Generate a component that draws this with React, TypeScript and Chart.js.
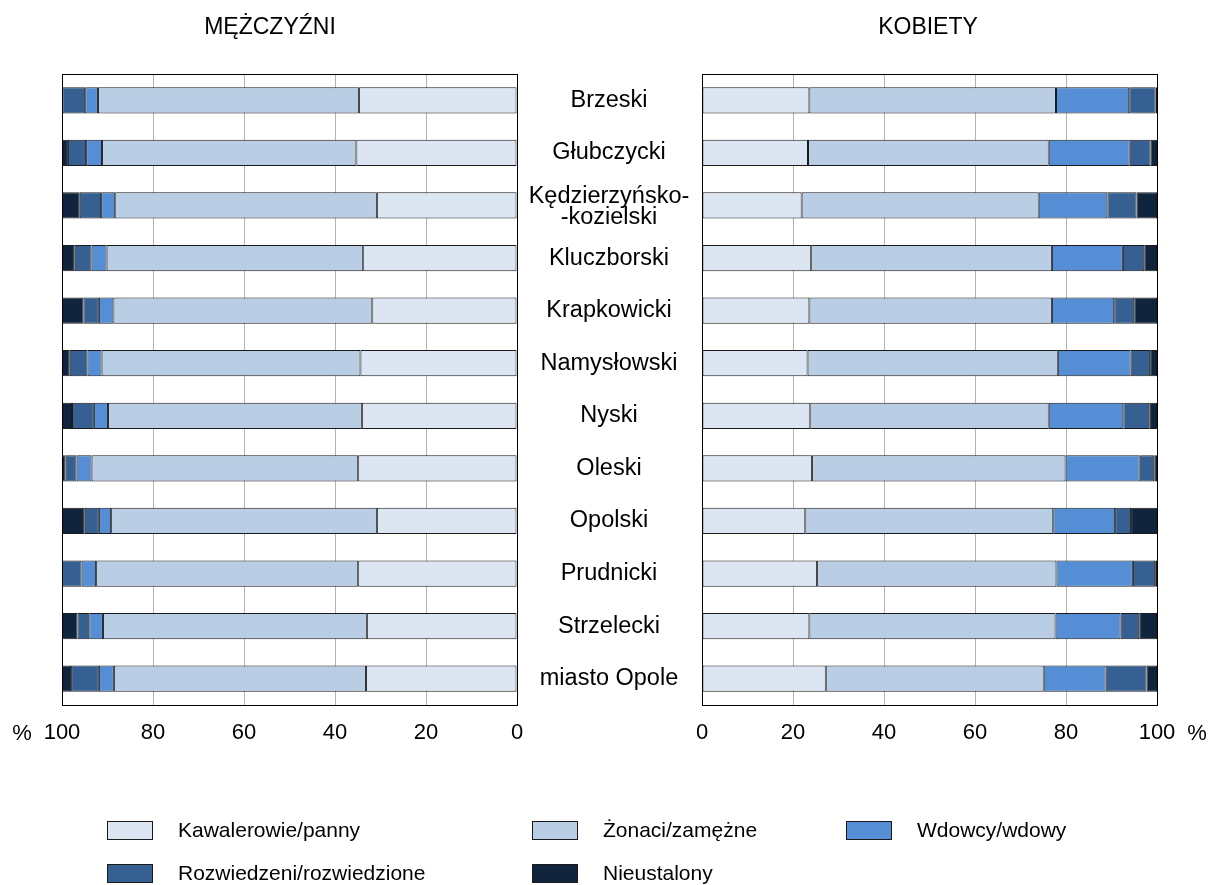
import React, { useEffect, useRef } from 'react';
import { Chart, registerables } from 'chart.js';

Chart.register(...registerables);

const FONT = '"Liberation Sans", Arial, Helvetica, sans-serif';

const categories: (string | string[])[] = [
  'Brzeski',
  'Głubczycki',
  ['Kędzierzyńsko-', '-kozielski'],
  'Kluczborski',
  'Krapkowicki',
  'Namysłowski',
  'Nyski',
  'Oleski',
  'Opolski',
  'Prudnicki',
  'Strzelecki',
  'miasto Opole',
];

const seriesNames = [
  'Kawalerowie/panny',
  'Żonaci/zamężne',
  'Wdowcy/wdowy',
  'Rozwiedzeni/rozwiedzione',
  'Nieustalony',
];
const seriesColors = ['#DCE6F2', '#B9CDE5', '#558ED5', '#376092', '#10243E'];

// MĘŻCZYŹNI (%)
const menKawalerowie = [34.7, 35.3, 30.8, 33.8, 31.8, 34.4, 34.1, 34.9, 30.8, 34.9, 33.0, 33.2];
const menZonaci = [57.4, 55.9, 57.5, 56.4, 56.9, 56.9, 55.8, 58.6, 58.4, 57.6, 58.0, 55.4];
const menWdowcy = [2.8, 3.5, 3.1, 3.3, 3.2, 3.1, 3.1, 3.3, 2.7, 3.2, 3.0, 3.3];
const menRozwiedzeni = [5.0, 4.0, 4.7, 3.7, 3.4, 3.9, 4.8, 2.4, 3.1, 4.3, 2.6, 6.1];
const menNieustalony = [0.1, 1.3, 3.9, 2.8, 4.7, 1.7, 2.2, 0.8, 5.0, 0.0, 3.4, 2.0];

// KOBIETY (%)
const womenPanny = [23.6, 23.3, 21.9, 24.0, 23.6, 23.2, 23.8, 24.2, 22.7, 25.3, 23.6, 27.2];
const womenZamezne = [54.2, 52.9, 52.1, 52.9, 53.3, 55.0, 52.4, 55.7, 54.5, 52.6, 54.1, 47.9];
const womenWdowy = [16.1, 17.8, 15.1, 15.6, 13.7, 16.0, 16.4, 16.3, 13.6, 16.8, 14.3, 13.6];
const womenRozwiedzione = [5.8, 4.6, 6.4, 4.7, 4.4, 4.3, 5.7, 3.2, 3.5, 4.9, 4.1, 9.0];
const womenNieustalony = [0.3, 1.4, 4.5, 2.8, 5.0, 1.5, 1.7, 0.6, 5.7, 0.4, 3.9, 2.3];

const xTicks = [0, 20, 40, 60, 80, 100];

const menSeries = [menKawalerowie, menZonaci, menWdowcy, menRozwiedzeni, menNieustalony];
const womenSeries = [womenPanny, womenZamezne, womenWdowy, womenRozwiedzione, womenNieustalony];

const CANVAS_H = 885;

function makeChart(
  canvas: HTMLCanvasElement,
  series: number[][],
  reverse: boolean,
  padding: { left: number; right: number },
  extras: {
    title: string;
    titleX: number;
    pctX: number;
    drawCategories: boolean;
    catX: number;
  }
) {
  const framePlugin = {
    id: 'frameAndText',
    afterDatasetsDraw(chart: any) {
      const { ctx, chartArea } = chart;
      ctx.save();
      ctx.strokeStyle = '#000';
      ctx.lineWidth = 1;
      ctx.strokeRect(
        Math.round(chartArea.left) + 0.5,
        Math.round(chartArea.top) + 0.5,
        Math.round(chartArea.right - chartArea.left),
        Math.round(chartArea.bottom - chartArea.top)
      );
      ctx.restore();
    },
    afterDraw(chart: any) {
      const { ctx } = chart;
      ctx.save();
      ctx.fillStyle = '#000';
      ctx.textAlign = 'center';
      ctx.textBaseline = 'middle';
      ctx.font = `23px ${FONT}`;
      ctx.fillText(extras.title, extras.titleX, 28);
      ctx.font = `22px ${FONT}`;
      ctx.fillText('%', extras.pctX, 734);
      if (extras.drawCategories) {
        ctx.font = `23.5px ${FONT}`;
        const yScale = chart.scales.y;
        categories.forEach((lab, i) => {
          const y = yScale.getPixelForValue(i);
          const lines = Array.isArray(lab) ? lab : [lab];
          const lh = 21;
          const shift = lines.length > 1 ? 2 : 0;
          lines.forEach((ln, j) => {
            ctx.fillText(ln, extras.catX, y + shift + (j - (lines.length - 1) / 2) * lh);
          });
        });
      }
      ctx.restore();
    },
  };

  return new Chart(canvas, {
    type: 'bar',
    data: {
      labels: categories.map((c) => (Array.isArray(c) ? c.join('') : c)),
      datasets: series.map((d, i) => ({
        label: seriesNames[i],
        data: d,
        backgroundColor: seriesColors[i],
        borderColor: '#1a1a1a',
        borderWidth: 1,
        borderSkipped: false,
        barPercentage: 0.5,
        categoryPercentage: 1,
      })),
    },
    options: {
      indexAxis: 'y',
      animation: false,
      responsive: false,
      maintainAspectRatio: false,
      devicePixelRatio: 1,
      layout: {
        padding: { left: padding.left, right: padding.right, top: 74, bottom: 120 },
      },
      plugins: {
        legend: { display: false },
        tooltip: { enabled: false },
        title: { display: false },
      },
      scales: {
        x: {
          type: 'linear',
          stacked: true,
          min: 0,
          max: 100,
          reverse,
          afterBuildTicks(scale: any) {
            scale.ticks = xTicks.map((v) => ({ value: v }));
          },
          afterFit(scale: any) {
            scale.height = 60;
          },
          grid: {
            color: '#B3B3B3',
            lineWidth: 1,
            drawTicks: false,
          },
          border: { display: true, color: '#000', width: 1 },
          ticks: {
            padding: 15,
            color: '#000',
            font: { family: FONT, size: 22 },
            maxRotation: 0,
          },
        },
        y: {
          type: 'category',
          stacked: true,
          display: false,
          grid: { display: false },
        },
      },
    },
    plugins: [framePlugin],
  } as any);
}

export default function App() {
  const leftRef = useRef<HTMLCanvasElement>(null);
  const rightRef = useRef<HTMLCanvasElement>(null);

  useEffect(() => {
    const left = makeChart(
      leftRef.current!,
      menSeries,
      true,
      { left: 62, right: 702 - 517 },
      { title: 'MĘŻCZYŹNI', titleX: 270, pctX: 22, drawCategories: true, catX: 609 }
    );
    const right = makeChart(
      rightRef.current!,
      womenSeries,
      false,
      { left: 702 - 680, right: 1209 - 1157 },
      { title: 'KOBIETY', titleX: 928 - 680, pctX: 1197 - 680, drawCategories: false, catX: 0 }
    );
    return () => {
      left.destroy();
      right.destroy();
    };
  }, []);

  const legendItem = (i: number, x: number, y: number) => (
    <div
      key={i}
      style={{ position: 'absolute', left: x, top: y, display: 'flex', alignItems: 'center', height: 22 }}
    >
      <div
        style={{
          width: 44,
          height: 17,
          background: seriesColors[i],
          border: '1px solid #1a1a1a',
          marginRight: 25,
          flex: 'none',
        }}
      />
      <span style={{ fontFamily: FONT, fontSize: 21, color: '#000', whiteSpace: 'nowrap', lineHeight: '22px' }}>
        {seriesNames[i]}
      </span>
    </div>
  );

  return (
    <div
      style={{
        position: 'absolute',
        left: 0,
        top: 0,
        width: 1209,
        height: 885,
        background: '#fff',
        overflow: 'hidden',
      }}
    >
      <canvas ref={leftRef} width={702} height={CANVAS_H} style={{ position: 'absolute', left: 0, top: 0 }} />
      <canvas ref={rightRef} width={529} height={CANVAS_H} style={{ position: 'absolute', left: 680, top: 0 }} />
      {legendItem(0, 107, 819)}
      {legendItem(1, 532, 819)}
      {legendItem(2, 846, 819)}
      {legendItem(3, 107, 862)}
      {legendItem(4, 532, 862)}
    </div>
  );
}
